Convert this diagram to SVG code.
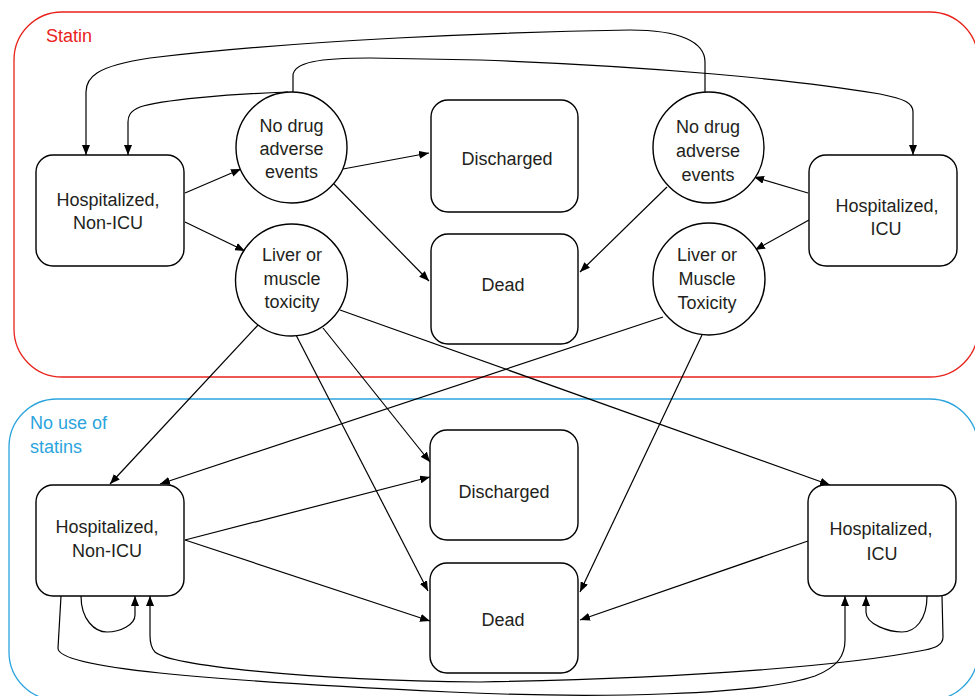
<svg xmlns="http://www.w3.org/2000/svg" width="975" height="696" viewBox="0 0 975 696">
<defs>
<marker id="ah" viewBox="0 0 10 8" refX="10" refY="4" markerWidth="10" markerHeight="8" markerUnits="userSpaceOnUse" orient="auto">
<path d="M0,0 L10,4 L0,8 z" fill="#000"/>
</marker>
<style>
.node{fill:#fff;stroke:#000;stroke-width:1.4}
.t{font-family:"Liberation Sans",Arial,Helvetica,sans-serif;font-size:18px;fill:#231f20;text-anchor:middle}
.lab{font-family:"Liberation Sans",Arial,Helvetica,sans-serif;font-size:18px}
.edge{fill:none;stroke:#000;stroke-width:1.2;marker-end:url(#ah)}
</style>
</defs>
<rect width="975" height="696" fill="#fff"/>
<g id="group-statin">
<rect x="14" y="12" width="964" height="365" rx="48" fill="none" stroke="#e8221c" stroke-width="1.3"/>
<text class="lab" x="46" y="42" fill="#e8221c">Statin</text>
</g>
<g id="group-nostatin">
<rect x="9" y="399" width="969" height="301" rx="48" fill="none" stroke="#2ba4dd" stroke-width="1.3"/>
<text class="lab" x="30" y="429" fill="#2ba4dd">No use of</text>
<text class="lab" x="30" y="453" fill="#2ba4dd">statins</text>
</g>
<g id="connectors">
<path class="edge" d="M185,193 L241,169"/>
<path class="edge" d="M185,222 L245,251"/>
<path class="edge" d="M343,169 L429,153"/>
<path class="edge" d="M334,184 L429,281"/>
<path class="edge" d="M667,187 L580,272"/>
<path class="edge" d="M808,193 L754,177"/>
<path class="edge" d="M809,220 L755,250"/>
<path class="edge" d="M705,92 L705,62 C705,42 680,30 630,30 C500,32 300,40 150,58 C95,66 86,78 86,92 L86,155"/>
<path class="edge" d="M293,92 L293,76 C293,62 320,58 370,58 L480,60 C650,66 800,80 880,94 C905,99 913,103 913,112 L913,155"/>
<path class="edge" d="M288,92 C230,94 160,100 140,107 C130,111 128,116 128,122 L128,155"/>
<path class="edge" d="M258,325 L110,484"/>
<path class="edge" d="M296,335 L428,591"/>
<path class="edge" d="M323,328 L430,462"/>
<path class="edge" d="M340,310 L830,485"/>
<path class="edge" d="M663,317 L160,484"/>
<path class="edge" d="M702,335 L580,592"/>
<path class="edge" d="M185,540 L430,477"/>
<path class="edge" d="M185,540 L430,621"/>
<path class="edge" d="M808,541 L580,620"/>
<path class="edge" d="M81,596 C81,620 95,632 107,632 C120,632 135,625 135,615 L135,596"/>
<path class="edge" d="M61,596 L58,648 C57,668 200,680 450,692 C600,699 760,695 815,676 C838,667 845,655 845,640 L845,596"/>
<path class="edge" d="M942,596 L943,637 C943,645 935,648 925,650 C850,665 700,678 480,682 C300,680 170,665 155,652 C151,648 150,642 150,635 L150,596"/>
<path class="edge" d="M927,596 C927,620 915,632 902,632 C890,632 866,625 866,612 L866,596"/>
</g>
<g id="s-hosp-nonicu">
<rect class="node" x="36" y="155" width="148" height="111" rx="17"/>
<text class="t" x="108" y="206">Hospitalized,</text>
<text class="t" x="108" y="229">Non-ICU</text>
</g>
<g id="s-nodrug-left">
<circle class="node" cx="291.5" cy="147.5" r="55.5"/>
<text class="t" x="291.5" y="132">No drug</text>
<text class="t" x="291.5" y="155">adverse</text>
<text class="t" x="291.5" y="178">events</text>
</g>
<g id="s-liver-left">
<circle class="node" cx="291.5" cy="280" r="56"/>
<text class="t" x="292" y="261">Liver or</text>
<text class="t" x="292" y="285">muscle</text>
<text class="t" x="292" y="308">toxicity</text>
</g>
<g id="s-discharged">
<rect class="node" x="431" y="100" width="147" height="112" rx="17"/>
<text class="t" x="507" y="165">Discharged</text>
</g>
<g id="s-dead">
<rect class="node" x="431" y="234" width="147" height="110" rx="17"/>
<text class="t" x="503" y="291">Dead</text>
</g>
<g id="s-nodrug-right">
<circle class="node" cx="708.5" cy="147.5" r="55.5"/>
<text class="t" x="708" y="133">No drug</text>
<text class="t" x="708" y="157">adverse</text>
<text class="t" x="708" y="181">events</text>
</g>
<g id="s-liver-right">
<circle class="node" cx="709" cy="279" r="56"/>
<text class="t" x="707" y="261">Liver or</text>
<text class="t" x="707" y="285">Muscle</text>
<text class="t" x="707" y="309">Toxicity</text>
</g>
<g id="s-hosp-icu">
<rect class="node" x="809" y="155" width="148" height="111" rx="17"/>
<text class="t" x="887" y="212">Hospitalized,</text>
<text class="t" x="886" y="235">ICU</text>
</g>
<g id="n-hosp-nonicu">
<rect class="node" x="36" y="485" width="148" height="111" rx="17"/>
<text class="t" x="107" y="533">Hospitalized,</text>
<text class="t" x="107" y="557">Non-ICU</text>
</g>
<g id="n-discharged">
<rect class="node" x="430" y="430" width="148" height="110" rx="17"/>
<text class="t" x="504" y="498">Discharged</text>
</g>
<g id="n-dead">
<rect class="node" x="430" y="563" width="148" height="110" rx="17"/>
<text class="t" x="503" y="626">Dead</text>
</g>
<g id="n-hosp-icu">
<rect class="node" x="808" y="485" width="148" height="111" rx="17"/>
<text class="t" x="881" y="535">Hospitalized,</text>
<text class="t" x="882" y="560">ICU</text>
</g>
</svg>
